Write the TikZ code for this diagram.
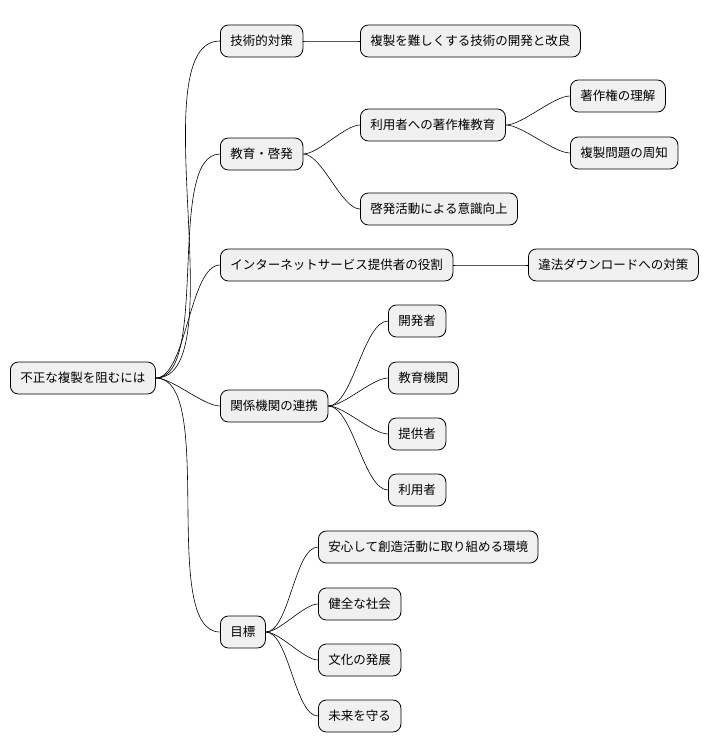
\documentclass[tikz,border=0pt]{standalone}
\usepackage{fontspec}
\setmainfont{Noto Sans CJK JP}
\begin{document}
\begin{tikzpicture}[x=1pt,y=-1pt,
  box/.style={draw=black,line width=0.8pt,fill=black!6,rounded corners=8pt,minimum height=32pt,inner xsep=10pt,anchor=west,font=\fontsize{12.5}{14}\selectfont},
  link/.style={draw=black,line width=0.6pt}]
\useasboundingbox (0,0) rectangle (726,752);
\node[box] (r) at (10,378) {不正な複製を阻むには};
\node[box] (a) at (220,41) {技術的対策};
\node[box] (a1) at (360,41) {複製を難しくする技術の開発と改良};
\node[box] (b) at (220,154) {教育・啓発};
\node[box] (b1) at (360,125) {利用者への著作権教育};
\node[box] (b11) at (570,96) {著作権の理解};
\node[box] (b12) at (570,153) {複製問題の周知};
\node[box] (b2) at (360,209) {啓発活動による意識向上};
\node[box] (c) at (220,265) {インターネットサービス提供者の役割};
\node[box] (c1) at (528,265) {違法ダウンロードへの対策};
\node[box] (d) at (220,406) {関係機関の連携};
\node[box] (d1) at (388,321) {開発者};
\node[box] (d2) at (388,378) {教育機関};
\node[box] (d3) at (388,434) {提供者};
\node[box] (d4) at (388,490) {利用者};
\node[box] (e) at (220,632) {目標};
\node[box] (e1) at (318,547) {安心して創造活動に取り組める環境};
\node[box] (e2) at (318,604) {健全な社会};
\node[box] (e3) at (318,660) {文化の発展};
\node[box] (e4) at (318,716) {未来を守る};
\foreach \p/\c in {r/a,r/b,r/c,r/d,r/e,a/a1,b/b1,b/b2,b1/b11,b1/b12,c/c1,d/d1,d/d2,d/d3,d/d4,e/e1,e/e2,e/e3,e/e4}
  \draw[link] (\p.east) to[out=0,in=180,looseness=0.6] (\c.west);
\end{tikzpicture}
\end{document}
